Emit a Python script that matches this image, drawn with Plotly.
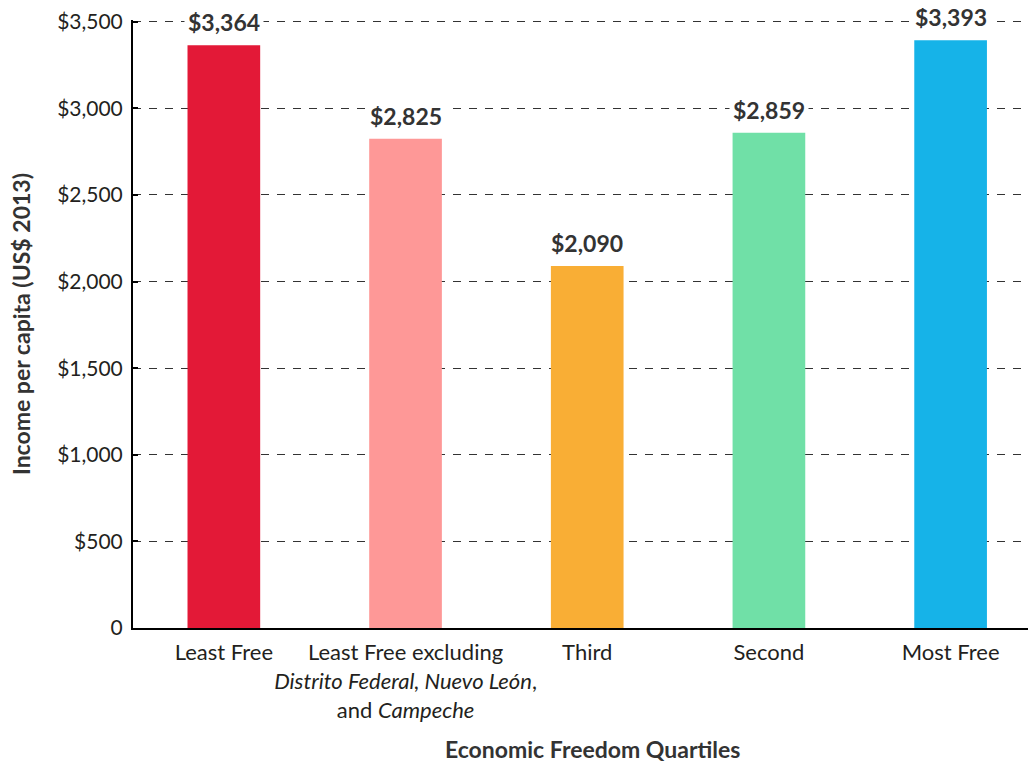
import plotly.graph_objects as go

categories = ["Least Free", "Least Free excluding", "Third", "Second", "Most Free"]
tick_labels = [
    "Least Free",
    "Least Free excluding<br><i>Distrito Federal, Nuevo León</i>,<br>and <i>Campeche</i>",
    "Third",
    "Second",
    "Most Free",
]
values = [3364, 2825, 2090, 2859, 3393]
colors = ["#E31937", "#FE9897", "#F9AE35", "#70E0A7", "#16B3E8"]
y_ticks = [0, 500, 1000, 1500, 2000, 2500, 3000, 3500]
y_tick_text = ["0", "$500", "$1,000", "$1,500", "$2,000", "$2,500", "$3,000", "$3,500"]

FONT = "Lato"
# page body has an 8px margin; plot area in page coords: x 133..1036, y 18..628
W, H = 1028, 757
L, T, B = 125, 8, 137
PW = W - L
PH = H - T - B

fig = go.Figure(
    go.Bar(
        x=categories,
        y=values,
        marker=dict(color=colors, line=dict(width=0)),
        width=0.4,
        hoverinfo="x+y",
    )
)

annotations = [
    dict(
        x=c, y=v, xref="x", yref="y",
        text=f"<b>${v:,}</b>",
        showarrow=False, xanchor="center", yanchor="bottom", yshift=5,
        bgcolor="white", borderpad=3,
        font=dict(family=FONT, size=23, color="#333333"),
    )
    for c, v in zip(categories, values)
]
annotations += [
    dict(
        text="<b>Income per capita (US$ 2013)</b>",
        xref="paper", yref="paper", x=(13 - L) / PW, y=0.5,
        xanchor="center", yanchor="middle", textangle=-90, showarrow=False,
        font=dict(family=FONT, size=23, color="#333333"),
    ),
    dict(
        text="<b>Economic Freedom Quartiles</b>",
        xref="paper", yref="paper", x=(584 - L) / PW, y=-(742 - (T + PH)) / PH,
        xanchor="center", yanchor="middle", showarrow=False,
        font=dict(family=FONT, size=23, color="#333333"),
    ),
]

fig.update_layout(
    width=W,
    height=H,
    margin=dict(l=L, r=0, t=T, b=B),
    paper_bgcolor="white",
    plot_bgcolor="white",
    showlegend=False,
    font=dict(family=FONT, size=21, color="#231F20"),
    annotations=annotations,
)

fig.update_xaxes(
    range=[-0.5, 4.47],
    tickmode="array",
    tickvals=categories,
    ticktext=tick_labels,
    tickangle=0,
    showline=True,
    linecolor="black",
    linewidth=2,
    ticks="",
    showgrid=False,
    ticklabelstandoff=4,
    ticklabeloverflow="allow",
    tickfont=dict(family=FONT, size=22, color="#231F20"),
)

fig.update_yaxes(
    range=[0, 3510],
    tickmode="array",
    tickvals=y_ticks,
    ticktext=y_tick_text,
    showline=True,
    linecolor="black",
    linewidth=2,
    ticks="inside",
    ticklen=5,
    tickcolor="black",
    tickwidth=1.5,
    showgrid=True,
    gridcolor="#333333",
    gridwidth=1,
    griddash="8px,8px",
    zeroline=False,
    ticklabelstandoff=4,
    ticklabeloverflow="allow",
    tickfont=dict(family=FONT, size=21, color="#231F20"),
)

fig.write_html("out.html")
